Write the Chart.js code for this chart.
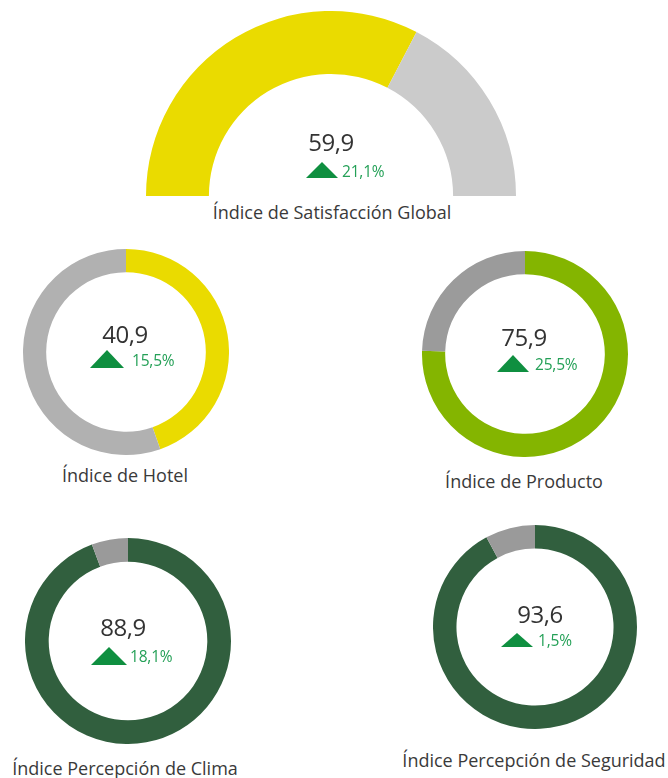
<!DOCTYPE html>
<html>
<head>
<meta charset="utf-8">
<script src="https://cdn.jsdelivr.net/npm/chart.js@4"></script>
<style>
  body { margin: 0; background: #fff; }
  #wrap { position: relative; width: 668px; height: 778px; overflow: hidden; font-family: "Open Sans", sans-serif; }
  canvas { position: absolute; }
  .txt { position: absolute; white-space: nowrap; line-height: 1; transform: translate(-50%, -50%); }
  .val { font-size: 24px; color: #333; letter-spacing: -0.5px; }
  .pct { font-size: 15.5px; color: #24a057; transform: translate(0, -50%); letter-spacing: -0.2px; }
  .lbl { font-size: 18px; color: #3a3a3a; letter-spacing: 0; }
  .tri { position: absolute; width: 0; height: 0; border-style: solid; border-color: transparent transparent #0f8f40 transparent; }
</style>
</head>
<body>
<div id="wrap"></div>
<script>
// chart data
const titles = ['Índice de Satisfacción Global', 'Índice de Hotel', 'Índice de Producto', 'Índice Percepción de Clima', 'Índice Percepción de Seguridad']
const scores = ['59,9', '40,9', '75,9', '88,9', '93,6']
const changes = ['21,1%', '15,5%', '25,5%', '18,1%', '1,5%']
// share of each ring that is filled, as drawn in the picture
const filled = [65.3, 44.6, 75.5, 94.3, 92.1]

// layout
const panels = [
    { cx: 331, cy: 196, r: 185, cut: '66%', half: true, fill: '#EADB00', rest: '#CBCBCB',
      val: [331, 142], tri: [306, 162, 33, 16], pct: [342, 172], lbl: [332, 212] },
    { cx: 126, cy: 352, r: 103, cut: '77.5%', fill: '#EADB00', rest: '#B1B1B1',
      val: [125, 334], tri: [90, 350, 34, 18], pct: [132, 361], lbl: [125, 475] },
    { cx: 525, cy: 354, r: 103, cut: '77.5%', fill: '#84B500', rest: '#9B9B9B',
      val: [524, 337], tri: [497, 355, 33, 17], pct: [535, 365], lbl: [524, 481] },
    { cx: 128, cy: 641, r: 103, cut: '77%', fill: '#315F3E', rest: '#9A9A9A',
      val: [123, 627], tri: [91, 647, 36, 18], pct: [130, 657], lbl: [125, 768] },
    { cx: 535, cy: 627, r: 102, cut: '77%', fill: '#315F3E', rest: '#9A9A9A',
      val: [540, 614], tri: [501, 633, 33, 14], pct: [538, 641], lbl: [534, 760] },
]

const wrap = document.getElementById('wrap')

function addText(cls, text, x, y) {
    const d = document.createElement('div')
    d.className = 'txt ' + cls
    d.textContent = text
    d.style.left = x + 'px'
    d.style.top = y + 'px'
    wrap.appendChild(d)
}

panels.forEach((p, i) => {
    const c = document.createElement('canvas')
    const w = p.r * 2
    const h = p.half ? p.r : p.r * 2
    c.width = w
    c.height = h
    c.style.left = (p.cx - p.r) + 'px'
    c.style.top = (p.cy - p.r) + 'px'
    wrap.appendChild(c)

    new Chart(c, {
        type: 'doughnut',
        data: {
            labels: [titles[i], ''],
            datasets: [{
                data: [filled[i], 100 - filled[i]],
                backgroundColor: [p.fill, p.rest],
                borderWidth: 0,
                hoverOffset: 0,
            }]
        },
        options: {
            responsive: false,
            maintainAspectRatio: false,
            animation: false,
            cutout: p.cut,
            rotation: p.half ? -90 : 0,
            circumference: p.half ? 180 : 360,
            layout: { padding: 0 },
            plugins: {
                legend: { display: false },
                tooltip: { enabled: false },
            },
        }
    })

    addText('val', scores[i], p.val[0], p.val[1])
    addText('pct', changes[i], p.pct[0], p.pct[1])
    addText('lbl', titles[i], p.lbl[0], p.lbl[1])

    const t = document.createElement('div')
    t.className = 'tri'
    t.style.left = p.tri[0] + 'px'
    t.style.top = p.tri[1] + 'px'
    t.style.borderWidth = '0 ' + (p.tri[2] / 2) + 'px ' + p.tri[3] + 'px ' + (p.tri[2] / 2) + 'px'
    wrap.appendChild(t)
})
</script>
</body>
</html>
